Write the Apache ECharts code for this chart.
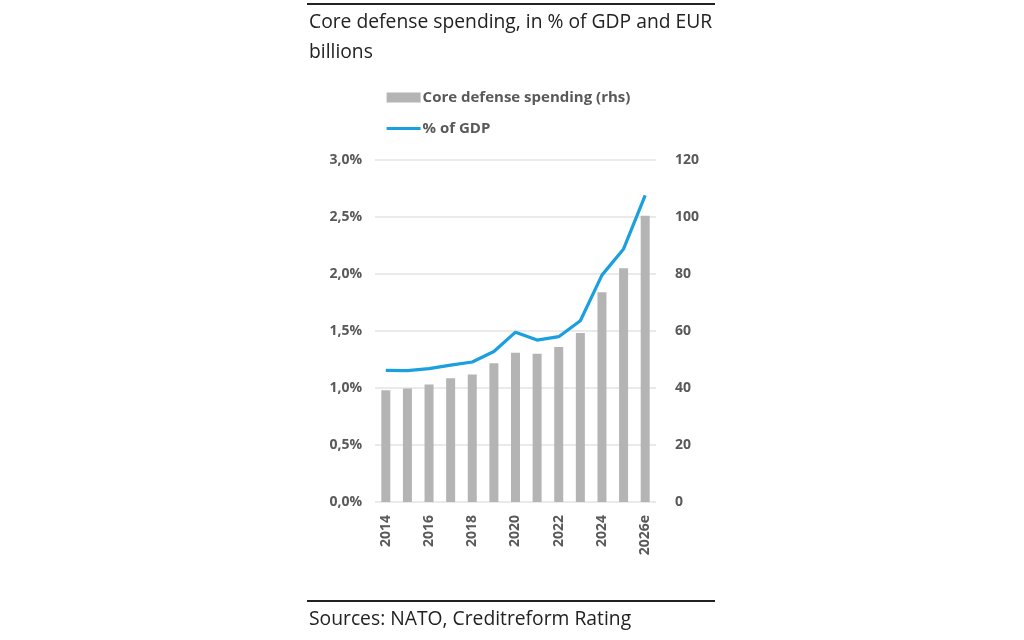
<!DOCTYPE html>
<html>
<head>
    <meta charset="utf-8">
    <title>Core defense spending</title>
    <script src="https://cdn.jsdelivr.net/npm/echarts@6/dist/echarts.min.js"></script>
    <style>
        html, body { margin: 0; padding: 0; background: #fff; }
        #main { width: 1024px; height: 640px; }
    </style>
</head>
<body>
<div id="main"></div>
<script>
    // data
    var years = ['2014', '2015', '2016', '2017', '2018', '2019', '2020',
                 '2021', '2022', '2023', '2024', '2025', '2026e'];
    var spending = [39.2, 39.8, 41.2, 43.4, 44.7, 48.7, 52.4, 52.0, 54.4, 59.3, 73.6, 82.0, 100.4];
    var gdpShare = [1.155, 1.152, 1.17, 1.20, 1.228, 1.32, 1.49, 1.42, 1.45, 1.59, 1.99, 2.22, 2.69];

    var titleLines = ['Core defense spending, in % of GDP and EUR', 'billions'];
    var sourceText = 'Sources: NATO, Creditreform Rating';

    var labelFont = { color: '#595959', fontWeight: 'bold', fontSize: 14, fontFamily: 'Open Sans' };
    var textFont = { fill: '#222', fontSize: 19.3, fontFamily: 'Open Sans' };

    var myChart = echarts.init(document.getElementById('main'));

    var option = {
        backgroundColor: '#fff',
        animation: false,
        graphic: [
            { type: 'line', shape: { x1: 307, y1: 4, x2: 715, y2: 4 }, style: { stroke: '#222', lineWidth: 2 } },
            { type: 'text', left: 309, top: 13, style: Object.assign({ text: titleLines[0] }, textFont) },
            { type: 'text', left: 309, top: 43, style: Object.assign({ text: titleLines[1] }, textFont) },
            { type: 'line', shape: { x1: 307, y1: 601, x2: 715, y2: 601 }, style: { stroke: '#222', lineWidth: 2 } },
            { type: 'text', left: 309, top: 610, style: Object.assign({ text: sourceText }, textFont) }
        ],
        legend: {
            orient: 'vertical',
            left: 380,
            top: 85,
            itemWidth: 34,
            itemHeight: 10,
            itemGap: 16,
            textStyle: { color: '#595959', fontWeight: 'bold', fontSize: 15, fontFamily: 'Open Sans', padding: [0, 0, 0, -3] },
            data: [
                { name: 'Core defense spending (rhs)', icon: 'rect' },
                { name: '% of GDP', itemStyle: { opacity: 0 }, lineStyle: { width: 3.2 } }
            ]
        },
        grid: { left: 375, right: 368, top: 160, bottom: 138 },
        xAxis: {
            type: 'category',
            data: years,
            axisLine: { show: false },
            axisTick: { show: false },
            axisLabel: Object.assign({ rotate: 90, interval: 1, margin: 13 }, labelFont)
        },
        yAxis: [
            {
                type: 'value',
                min: 0, max: 3, interval: 0.5,
                axisLine: { show: false },
                axisTick: { show: false },
                splitLine: { lineStyle: { color: '#e3e3e3', width: 1.5 } },
                axisLabel: Object.assign({
                    margin: 13,
                    formatter: function (v) { return v.toFixed(1).replace('.', ',') + '%'; }
                }, labelFont)
            },
            {
                type: 'value',
                min: 0, max: 120, interval: 20,
                axisLine: { show: false },
                axisTick: { show: false },
                splitLine: { show: false },
                axisLabel: Object.assign({ margin: 19 }, labelFont)
            }
        ],
        series: [
            {
                name: 'Core defense spending (rhs)',
                type: 'bar',
                yAxisIndex: 1,
                data: spending,
                barWidth: 9,
                itemStyle: { color: '#b4b4b4' }
            },
            {
                name: '% of GDP',
                type: 'line',
                yAxisIndex: 0,
                data: gdpShare,
                symbol: 'none',
                lineStyle: { color: '#1a9fdf', width: 3.2 },
                itemStyle: { color: '#1a9fdf' }
            }
        ]
    };

    myChart.setOption(option);
</script>
</body>
</html>
